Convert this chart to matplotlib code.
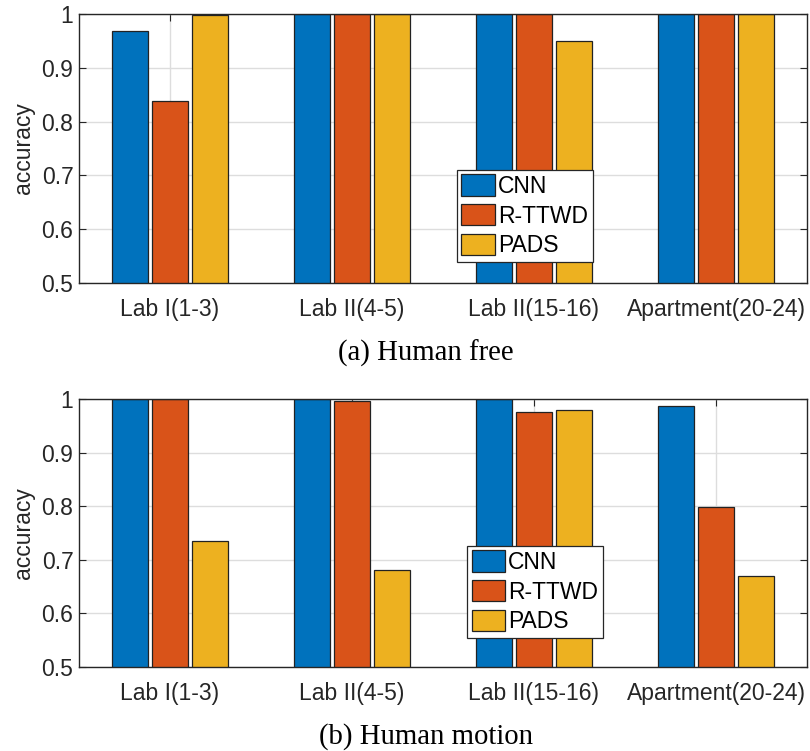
import numpy as np
import matplotlib.pyplot as plt

plt.rcParams['font.family'] = ['Liberation Sans', 'DejaVu Sans']

scenes = ['Lab I(1-3)', 'Lab II(4-5)', 'Lab II(15-16)', 'Apartment(20-24)']
methods = ['CNN', 'R-TTWD', 'PADS']
colors = ['#0072BD', '#D95319', '#EDB120']

# accuracy per scene, human free
free_cnn = [0.969, 1.0, 1.0, 1.0]
free_rttwd = [0.838, 1.0, 1.0, 1.0]
free_pads = [0.998, 1.0, 0.95, 1.0]

# accuracy per scene, human motion
motion_cnn = [1.0, 1.0, 1.0, 0.987]
motion_rttwd = [1.0, 0.996, 0.976, 0.798]
motion_pads = [0.735, 0.681, 0.979, 0.669]

panels = [
    ((free_cnn, free_rttwd, free_pads), '(a) Human free', [0.519, 0.078]),
    ((motion_cnn, motion_rttwd, motion_pads), '(b) Human motion', [0.533, 0.108]),
]

fig = plt.figure(figsize=(8.1, 7.51), dpi=100)
axes_rects = [[79/810, 1 - 283/751, 728/810, 269/751],
              [79/810, 1 - 667/751, 728/810, 268/751]]
caption_y = [1 - 353/751, 1 - 737/751]

x = np.arange(1, len(scenes) + 1)
offset = 0.222
width = 0.197
fs = 16.5

for (series, caption, leg_pos), rect, cy in zip(panels, axes_rects, caption_y):
    ax = fig.add_axes(rect)
    for i, (vals, name, c) in enumerate(zip(series, methods, colors)):
        ax.bar(x + (i - 1) * offset, vals, width, color=c, edgecolor='#222222',
               linewidth=0.9, label=name, zorder=3)
    ax.set_xlim(0.5, 4.5)
    ax.set_ylim(0.5, 1.0)
    ax.set_xticks(x)
    ax.set_xticklabels(scenes)
    ax.set_yticks([0.5, 0.6, 0.7, 0.8, 0.9, 1.0])
    ax.set_yticklabels(['0.5', '0.6', '0.7', '0.8', '0.9', '1'])
    ax.grid(True, color='#dddddd', linewidth=1.0, zorder=0)
    ax.tick_params(direction='in', top=True, right=True, labelsize=fs,
                   colors='#262626', length=5, width=0.8, labelcolor='#262626')
    ax.tick_params(axis='x', pad=11)
    ax.tick_params(axis='y', pad=4)
    for s in ax.spines.values():
        s.set_color('#262626')
        s.set_linewidth(1.0)
        s.set_zorder(5)
    ax.set_ylabel('accuracy', fontsize=fs, color='#262626', labelpad=5)
    leg = ax.legend(loc='lower left', bbox_to_anchor=leg_pos, fontsize=fs,
                    handlelength=1.45, handleheight=1.05, handletextpad=0.15,
                    borderpad=0.2, labelspacing=0.28, borderaxespad=0,
                    fancybox=False, framealpha=1, edgecolor='#262626')
    leg.get_frame().set_linewidth(0.9)
    leg.set_zorder(6)
    fig.text(426/810, cy, caption, ha='center', va='center', fontsize=20.7,
             family=['Liberation Serif', 'DejaVu Serif'])

fig.savefig('out.png', dpi=100)
